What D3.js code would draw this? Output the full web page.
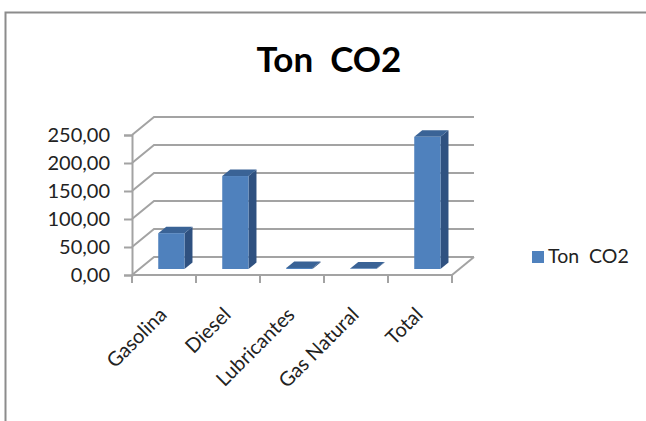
<!DOCTYPE html>
<html>
<head>
<meta charset="utf-8">
<script src="https://cdn.jsdelivr.net/npm/d3@7"></script>
<style>
  html, body { margin: 0; padding: 0; background: #fff; }
  svg { display: block; }
  text { font-family: Lato, "Open Sans", sans-serif; fill: #222; }
</style>
</head>
<body>
<div id="chart"></div>
<script>
const categories = ["Gasolina", "Diesel", "Lubricantes", "Gas Natural", "Total"]
const values = [64, 166, 2, 1, 236]
const yTicks = [0, 50, 100, 150, 200, 250]
const seriesName = "Ton  CO2"

const width = 646, height = 421

// depth of the fake 3d floor
const depthX = 22, depthY = -18
const barDepthX = 8, barDepthY = -6.5

const svg = d3.select("#chart").append("svg")
    .attr("width", width)
    .attr("height", height)

// outer frame, only top and left edges are visible in the picture
svg.append("path")
    .attr("d", "M5.5,421V12.5H646")
    .attr("fill", "none")
    .attr("stroke", "#8c8c8c")
    .attr("stroke-width", 2)

const x = d3.scaleBand().domain(categories).range([132, 452])
const y = d3.scaleLinear().domain([0, 250]).range([275, 135])

const wall = svg.append("g")
    .attr("fill", "none")
    .attr("stroke", "#a3a3a3")
    .attr("stroke-width", 2)

// gridlines, wall side and floor
yTicks.forEach(t => {
    wall.append("path")
        .attr("d", `M${x.range()[0]},${y(t)}l${depthX},${depthY}H${x.range()[1] + depthX}`)
})
wall.append("path")
    .attr("d", `M${x.range()[1]},${y(0)}l${depthX},${depthY}`)

// y axis
const yAxis = svg.append("g")
    .attr("transform", `translate(${x.range()[0]},0)`)
    .call(d3.axisLeft(y).tickValues(yTicks).tickSize(8).tickPadding(14)
        .tickFormat(d => d3.format(".2f")(d).replace(".", ",")))
yAxis.select(".domain").attr("stroke", "#a3a3a3").attr("stroke-width", 2)
yAxis.selectAll("line").attr("stroke", "#a3a3a3").attr("stroke-width", 2)
yAxis.selectAll("text").style("font-size", "20px").attr("fill", "#222")

// x axis
const xAxis = svg.append("g")
    .attr("transform", `translate(0,${y(0)})`)
    .call(d3.axisBottom(x).tickSize(0).tickPadding(0))
xAxis.select(".domain").remove()
xAxis.selectAll("line").remove()
xAxis.selectAll("text")
    .style("font-size", "20px")
    .attr("fill", "#222")
    .attr("text-anchor", "end")
    .attr("dy", 0)
    .attr("y", 0)
    .attr("transform", `translate(4,41) rotate(-45)`)

// tick marks between categories
svg.append("g").selectAll("line")
    .data(categories.concat("end"))
    .join("line")
    .attr("x1", d => d === "end" ? x.range()[1] : x(d))
    .attr("x2", d => d === "end" ? x.range()[1] : x(d))
    .attr("y1", y(0))
    .attr("y2", y(0) + 8)
    .attr("stroke", "#a3a3a3")
    .attr("stroke-width", 2)
svg.append("line")
    .attr("x1", x.range()[0]).attr("x2", x.range()[1])
    .attr("y1", y(0)).attr("y2", y(0))
    .attr("stroke", "#a3a3a3")
    .attr("stroke-width", 2)

// bars: front, top and side faces
const barW = x.bandwidth() * 0.41
const barOff = x.bandwidth() * 0.41
const lift = -6
const bars = svg.append("g").selectAll("g")
    .data(categories.map((c, i) => ({ c, v: values[i] })))
    .join("g")
    .attr("transform", d => `translate(${x(d.c) + barOff},${lift})`)

bars.append("path")
    .attr("fill", "#2f5180")
    .attr("d", d => `M${barW},${y(d.v)}l${barDepthX},${barDepthY}V${y(0) + barDepthY}l${-barDepthX},${-barDepthY}Z`)
bars.append("path")
    .attr("fill", "#3a6396")
    .attr("d", d => `M0,${y(d.v)}l${barDepthX},${barDepthY}h${barW}l${-barDepthX},${-barDepthY}Z`)
bars.append("rect")
    .attr("fill", "#4f81bd")
    .attr("x", 0)
    .attr("width", barW)
    .attr("y", d => y(d.v))
    .attr("height", d => y(0) - y(d.v))

// title
svg.append("text")
    .attr("x", 329)
    .attr("y", 72)
    .attr("text-anchor", "middle")
    .style("font-size", "35px")
    .style("font-weight", "700")
    .style("fill", "#000")
    .style("white-space", "pre")
    .text(seriesName)

// legend
svg.append("rect")
    .attr("x", 532)
    .attr("y", 251)
    .attr("width", 12)
    .attr("height", 12)
    .attr("fill", "#4f81bd")
svg.append("text")
    .attr("x", 548)
    .attr("y", 263)
    .style("font-size", "19.5px")
    .style("white-space", "pre")
    .text(seriesName)
</script>
</body>
</html>
